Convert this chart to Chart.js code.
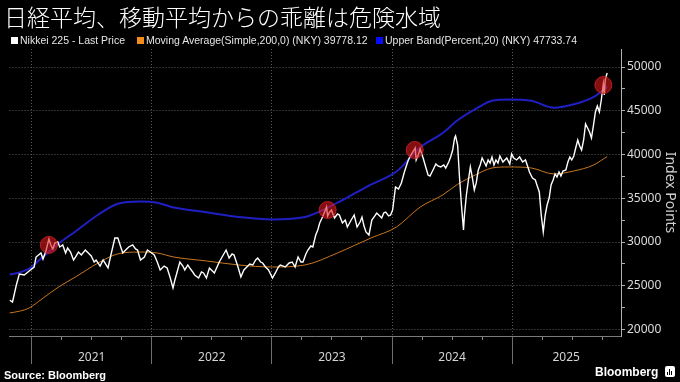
<!DOCTYPE html>
<html lang="ja">
<head>
<meta charset="utf-8">
<title>日経平均、移動平均からの乖離は危険水域</title>
<script src="https://cdn.jsdelivr.net/npm/chart.js@4.4.1/dist/chart.umd.min.js"></script>
<style>
  html, body { margin: 0; padding: 0; background: #000; }
  #wrap { position: relative; width: 680px; height: 382px; overflow: hidden; background: #000; }
  #chart { position: absolute; left: 0; top: 0; }
  #title { position: absolute; left: 4px; top: 2px; font: 300 23px/28px "Noto Sans CJK JP", sans-serif; color: #fff; white-space: nowrap; }
  .leg { position: absolute; top: 34px; font: 10.5px/12px "Liberation Sans", Arial, sans-serif; color: #e6e6e6; white-space: nowrap; }
  .leg i { display: inline-block; width: 7px; height: 7px; margin-right: 2px; vertical-align: 0px; }
  #source { position: absolute; left: 4px; top: 369px; font: bold 11px/12px "Liberation Sans", Arial, sans-serif; color: #fff; }
  #brand { position: absolute; left: 595px; top: 364px; font: bold 12px/16px "Liberation Sans", Arial, sans-serif; color: #fff; }
  #logo { position: absolute; left: 665px; top: 366px; width: 10px; height: 11px; background: #fff; border-radius: 2px; }
  #logo span { position: absolute; bottom: 2px; width: 1px; background: #000; }
</style>
</head>
<body>
<div id="wrap">
  <canvas id="chart" width="680" height="382"></canvas>
  <div id="title">日経平均、移動平均からの乖離は危険水域</div>
  <div class="leg" style="left:11px"><i style="background:#fff"></i>Nikkei 225 - Last Price</div>
  <div class="leg" style="left:137px"><i style="background:#f28c1c"></i>Moving Average(Simple,200,0) (NKY) 39778.12</div>
  <div class="leg" style="left:376px"><i style="background:#0a0aff"></i>Upper Band(Percent,20) (NKY) 47733.74</div>
  <div id="source">Source: Bloomberg</div>
  <div id="brand">Bloomberg</div>
  <div id="logo"><span style="left:2px;height:3px"></span><span style="left:4px;height:6px"></span><span style="left:6px;height:4px"></span></div>
</div>
<script>
// tijd in jaren (decimaal)
const priceYears = [
  2020.816, 2020.841, 2020.873, 2020.898, 2020.939, 2020.980, 2021.021, 2021.037, 2021.078, 2021.095,
  2021.119, 2021.144, 2021.160, 2021.177, 2021.193, 2021.218, 2021.234, 2021.259, 2021.283, 2021.300,
  2021.324, 2021.349, 2021.365, 2021.390, 2021.414, 2021.447, 2021.472, 2021.496, 2021.521, 2021.537,
  2021.570, 2021.595, 2021.636, 2021.660, 2021.693, 2021.718, 2021.742, 2021.759, 2021.783, 2021.808,
  2021.841, 2021.865, 2021.882, 2021.906, 2021.939, 2021.964, 2021.988, 2022.021, 2022.046, 2022.070,
  2022.103, 2022.128, 2022.152, 2022.177, 2022.193, 2022.209, 2022.234, 2022.259, 2022.275, 2022.300,
  2022.316, 2022.341, 2022.357, 2022.390, 2022.414, 2022.431, 2022.455, 2022.480, 2022.505, 2022.521,
  2022.562, 2022.595, 2022.619, 2022.644, 2022.669, 2022.685, 2022.718, 2022.742, 2022.767, 2022.783,
  2022.816, 2022.841, 2022.865, 2022.882, 2022.906, 2022.923, 2022.947, 2022.972, 2023.005, 2023.029,
  2023.054, 2023.070, 2023.095, 2023.111, 2023.144, 2023.169, 2023.193, 2023.218, 2023.242, 2023.259,
  2023.283, 2023.300, 2023.324, 2023.341, 2023.365, 2023.382, 2023.398, 2023.414, 2023.439, 2023.455,
  2023.464, 2023.480, 2023.496, 2023.521, 2023.546, 2023.562, 2023.587, 2023.611, 2023.628, 2023.660,
  2023.685, 2023.709, 2023.734, 2023.750, 2023.767, 2023.783, 2023.808, 2023.832, 2023.857, 2023.873,
  2023.898, 2023.914, 2023.931, 2023.947, 2023.972, 2023.988, 2024.005, 2024.029, 2024.054, 2024.078,
  2024.103, 2024.119, 2024.136, 2024.152, 2024.177, 2024.193, 2024.201, 2024.218, 2024.234, 2024.259,
  2024.283, 2024.300, 2024.316, 2024.341, 2024.365, 2024.382, 2024.406, 2024.431, 2024.447, 2024.472,
  2024.488, 2024.505, 2024.521, 2024.529, 2024.546, 2024.562, 2024.578, 2024.595, 2024.603, 2024.619,
  2024.636, 2024.652, 2024.669, 2024.685, 2024.701, 2024.718, 2024.734, 2024.750, 2024.767, 2024.783,
  2024.800, 2024.816, 2024.832, 2024.849, 2024.865, 2024.882, 2024.898, 2024.923, 2024.939, 2024.955,
  2024.980, 2024.996, 2025.013, 2025.037, 2025.062, 2025.087, 2025.111, 2025.128, 2025.144, 2025.169,
  2025.193, 2025.209, 2025.226, 2025.242, 2025.259, 2025.275, 2025.291, 2025.308, 2025.324, 2025.341,
  2025.357, 2025.373, 2025.390, 2025.406, 2025.423, 2025.447, 2025.464, 2025.480, 2025.496, 2025.513,
  2025.529, 2025.546, 2025.562, 2025.578, 2025.595, 2025.611, 2025.628, 2025.644, 2025.660, 2025.677,
  2025.693, 2025.709, 2025.726, 2025.742, 2025.750, 2025.759, 2025.767, 2025.775, 2025.783, 2025.791
];
const priceValues = [
  23380, 23150, 25090, 26350, 26240, 26690, 27150, 28290, 28750, 28060,
  28980, 30350, 29670, 29210, 29890, 30010, 29440, 29670, 28750, 29320,
  28860, 27950, 28290, 28860, 28520, 29090, 28750, 28410, 27720, 27950,
  27260, 27950, 27040, 28520, 30460, 30460, 29440, 28750, 29090, 29440,
  29670, 29210, 29090, 27950, 28290, 29090, 28860, 28520, 27720, 26810,
  27260, 27040, 26010, 24750, 25670, 26470, 27720, 27260, 26810, 27380,
  27040, 26580, 26240, 25890, 26580, 26470, 25890, 27040, 26690, 26470,
  27720, 28520, 29090, 28180, 28640, 28520, 27150, 26010, 26810, 27040,
  27490, 27380, 27950, 28180, 27720, 27610, 27150, 26810, 25890, 26470,
  27150, 27380, 27260, 27150, 27610, 27720, 27150, 28290, 27720, 27720,
  28640, 29090, 29550, 29440, 30810, 31380, 32180, 32630, 33430, 34010,
  32980, 33430, 33660, 32750, 33210, 33090, 32180, 32520, 31720, 32520,
  33090, 31720, 32290, 32860, 31830, 31150, 30810, 32520, 32980, 33320,
  32980, 32750, 33320, 33430, 32980, 33090, 33660, 36290, 36060, 36750,
  38000, 38690, 39380, 39830, 40400, 40750, 39380, 39950, 40630, 39600,
  38460, 37660, 37550, 38230, 38920, 38690, 38580, 38800, 38460, 39150,
  39720, 40520, 41890, 42120, 41090, 37320, 34230, 31380, 33090, 35380,
  37090, 38580, 37320, 35950, 36750, 38230, 38800, 39600, 39150, 38690,
  39380, 39030, 39720, 38800, 39380, 39030, 39830, 39150, 39380, 39600,
  38920, 40060, 39600, 39380, 39720, 39150, 39380, 38690, 38000, 37320,
  37090, 36400, 35720, 33090, 31150, 33090, 34230, 35030, 36520, 37090,
  37780, 37430, 38000, 37550, 38120, 38230, 39150, 39720, 39380, 39830,
  40750, 41660, 40970, 40520, 41660, 43490, 43030, 42570, 41890, 43370,
  44860, 45540, 44860, 46230, 47140, 48060, 46800, 48520, 48970, 49320
];

// 200-daags gemiddelde en bovenband (20%)
const maYears = [
  2020.816, 2020.898, 2020.980, 2021.086, 2021.225, 2021.365, 2021.553, 2021.718, 2021.906, 2022.046,
  2022.184, 2022.455, 2022.725, 2023.005, 2023.275, 2023.546, 2023.685, 2023.824, 2024.037, 2024.234,
  2024.422, 2024.546, 2024.693, 2024.832, 2024.971, 2025.160, 2025.348, 2025.513, 2025.677, 2025.791
];
const maValues = [
  21900, 22100, 22470, 23500, 24870, 26010, 27600, 28650, 28860, 28750,
  28290, 27840, 27380, 27150, 27380, 28750, 29600, 30460, 31720, 34000,
  35380, 36600, 37660, 38460, 38580, 38460, 37780, 38120, 38800, 39778.12
];
const bandValues = [
  26280, 26520, 26960, 28200, 29840, 31210, 33120, 34380, 34630, 34500,
  33950, 33410, 32860, 32580, 32860, 34500, 35520, 36550, 38060, 40800,
  42460, 43920, 45190, 46150, 46300, 46150, 45340, 45740, 46560, 47733.74
];

// rode cirkels waar de koers de bovenband raakt
const hitYears = [2021.144, 2023.464, 2024.189, 2025.759];
const hitValues = [29670, 33660, 40520, 47940];

// assen
const xMin = 2020.816;
const xMax = 2025.906;
const xTickValues = [
  2021, 2021.25, 2021.5, 2021.75, 2022, 2022.25, 2022.5, 2022.75,
  2023, 2023.25, 2023.5, 2023.75, 2024, 2024.25, 2024.5, 2024.75,
  2025, 2025.25, 2025.45, 2025.5, 2025.75
];
const yearLabels = ['2021', '2022', '2023', '2024', '2025'];
const yearLabelPos = [2021.5, 2022.5, 2023.5, 2024.5, 2025.45];
const yMin = 19267;
const yMax = 52057;
const yTickValues = [
  20000, 22500, 25000, 27500, 30000, 32500, 35000, 37500,
  40000, 42500, 45000, 47500, 50000
];

function toPoints(xs, ys) {
  let points = [];
  for (let i = 0; i < xs.length; i++) {
    points.push({ x: xs[i], y: ys[i] });
  }
  return points;
}

function isYear(tick) {
  return tick && Number.isInteger(tick.value);
}

function isLabelOnly(tick) {
  return tick && tick.value === 2025.45;
}

const ctx = document.getElementById('chart');

new Chart(ctx, {
  type: 'line',
  data: {
    datasets: [
      {
        label: 'hits',
        data: toPoints(hitYears, hitValues),
        showLine: false,
        pointRadius: 8.5,
        pointBackgroundColor: 'rgba(225, 25, 30, 0.58)',
        pointBorderColor: 'rgba(200, 30, 30, 0.9)',
        pointBorderWidth: 1,
        order: 0
      },
      {
        label: 'Nikkei 225 - Last Price',
        data: toPoints(priceYears, priceValues),
        borderColor: '#ffffff',
        borderWidth: 1.4,
        pointRadius: 0,
        tension: 0,
        order: 1
      },
      {
        label: 'Upper Band(Percent,20) (NKY)',
        data: toPoints(maYears, bandValues),
        borderColor: '#1f1fc4',
        borderWidth: 2,
        pointRadius: 0,
        cubicInterpolationMode: 'monotone',
        order: 2
      },
      {
        label: 'Moving Average(Simple,200,0) (NKY)',
        data: toPoints(maYears, maValues),
        borderColor: '#c9771f',
        borderWidth: 1,
        pointRadius: 0,
        cubicInterpolationMode: 'monotone',
        order: 3
      }
    ]
  },
  options: {
    responsive: false,
    animation: false,
    devicePixelRatio: 1,
    layout: { padding: { top: 49, left: 0, right: 0, bottom: 0 } },
    plugins: {
      legend: { display: false },
      tooltip: { enabled: false }
    },
    scales: {
      x: {
        type: 'linear',
        min: xMin,
        max: xMax,
        afterBuildTicks: s => { s.ticks = xTickValues.map(v => ({ value: v })); },
        afterFit: s => { s.height = 46; },
        grid: {
          color: c => isYear(c.tick) ? '#5a5a5a' : 'rgba(0,0,0,0)',
          tickColor: c => isLabelOnly(c.tick) ? 'rgba(0,0,0,0)' : (isYear(c.tick) ? '#6e6e6e' : '#8a8a8a'),
          tickLength: 28,
          tickBorderDash: c => isYear(c.tick) ? [] : [3, 40],
          lineWidth: 1
        },
        border: { color: '#7a7a7a', dash: [1, 2] },
        ticks: {
          autoSkip: false,
          maxRotation: 0,
          padding: -14,
          color: '#d4d4d4',
          font: { family: 'Noto Sans', size: 12 },
          callback: v => {
            const i = yearLabelPos.indexOf(v);
            return i >= 0 ? yearLabels[i] : '';
          }
        }
      },
      y: {
        position: 'right',
        min: yMin,
        max: yMax,
        afterBuildTicks: s => { s.ticks = yTickValues.map(v => ({ value: v })); },
        afterFit: s => { s.width = 59; },
        grid: {
          color: c => (c.tick && c.tick.value % 5000 === 0) ? '#5a5a5a' : 'rgba(0,0,0,0)',
          tickColor: '#b0b0b0',
          tickLength: 4,
          lineWidth: 1
        },
        border: { color: '#b0b0b0', dash: [1, 2] },
        ticks: {
          padding: 2,
          color: '#dcdcdc',
          font: { family: 'Noto Sans', size: 12 },
          callback: v => v % 5000 === 0 ? String(v) : ''
        },
        title: {
          display: true,
          text: 'Index Points',
          color: '#cfcfcf',
          font: { family: 'Noto Sans', size: 14 },
          padding: { top: 2, bottom: 0 }
        }
      }
    }
  }
});
</script>
</body>
</html>
